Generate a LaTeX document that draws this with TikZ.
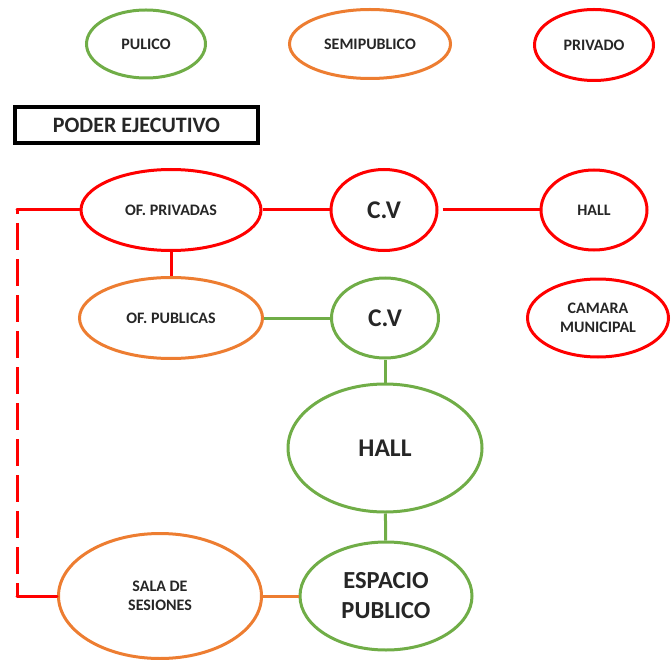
\documentclass[tikz,border=0pt]{standalone}
\usepackage{fontspec}
\setmainfont{Carlito}
\usetikzlibrary{shapes.geometric}
\definecolor{pubgreen}{HTML}{70AD47}
\definecolor{semiorange}{HTML}{ED7D31}
\definecolor{privred}{HTML}{FF0000}

\begin{document}
\begin{tikzpicture}[x=1pt, y=-1pt,
    zone/.style={ellipse, line width=3pt, inner sep=0pt, align=center,
      text=black!85, font=\bfseries\fontsize{16}{19.5}\selectfont},
    bigtext/.style={font=\bfseries\fontsize{25.5}{30}\selectfont},
    pub/.style={zone, draw=pubgreen},
    semi/.style={zone, draw=semiorange},
    priv/.style={zone, draw=privred},
    link/.style={line width=3pt}]
    \useasboundingbox (0,0) rectangle (671,660);

    % Legend
    \node[pub, minimum width=119, minimum height=68] (pulico) at (146,44) {PULICO};
    \node[semi, minimum width=161, minimum height=69] (semipub) at (370,44) {SEMIPUBLICO};
    \node[priv, minimum width=119, minimum height=71] (privado) at (594,45) {PRIVADO};

    % Title box
    \node[draw, line width=4pt, minimum width=243, minimum height=36,
      text=black!85, font=\bfseries\fontsize{22}{26}\selectfont] (poder) at (136.5,125) {PODER EJECUTIVO};

    % Upper rows
    \node[priv, minimum width=180, minimum height=81] (ofpriv) at (171,210) {OF. PRIVADAS};
    \node[priv, bigtext, minimum width=106, minimum height=81] (cvred) at (384,210) {C.V};
    \node[priv, minimum width=106, minimum height=80] (hallred) at (594,210) {HALL};

    \node[semi, minimum width=183, minimum height=81] (ofpub) at (171,318) {OF. PUBLICAS};
    \node[pub, bigtext, minimum width=107, minimum height=80] (cvgreen) at (385,318) {C.V};
    \node[priv, minimum width=141, minimum height=78] (camara) at (598,318) {CAMARA\\MUNICIPAL};

    % Lower part
    \node[pub, bigtext, minimum width=194, minimum height=128] (hallgreen) at (385,448) {HALL};
    \node[pub, font=\bfseries\fontsize{24.5}{30}\selectfont, minimum width=172, minimum height=108] (espacio) at (386,596) {ESPACIO\\PUBLICO};
    \node[semi, minimum width=203, minimum height=125] (sala) at (160,596) {SALA DE\\SESIONES};

    % Connectors
    \draw[link, privred] (ofpriv) -- (cvred);
    \draw[link, privred, shorten <=4pt] (cvred) -- (hallred);
    \draw[link, privred] (ofpriv) -- (ofpub);
    \draw[link, pubgreen] (ofpub) -- (cvgreen);
    \draw[link, pubgreen] (cvgreen) -- (hallgreen);
    \draw[link, pubgreen] (hallgreen) -- (espacio);
    \draw[link, semiorange] (sala) -- (espacio);

    % Dashed return line
    \coordinate (topc) at (17,210);
    \coordinate (botc) at (17,596);
    \draw[link, privred, line cap=round] (ofpriv.west) -- (topc);
    \draw[link, privred, dash pattern=on 27pt off 9pt, dash phase=23pt] (topc) -- (botc);
    \draw[link, privred, line cap=round] (botc) -- (sala.west);
\end{tikzpicture}
\end{document}
